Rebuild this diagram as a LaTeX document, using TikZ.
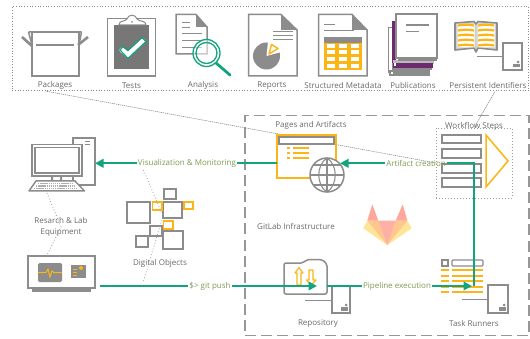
\documentclass[tikz,border=0pt]{standalone}
\usepackage{fontspec}
\setmainfont{Open Sans}
\usetikzlibrary{arrows.meta,calc}
\definecolor{ig}{HTML}{8C8C8C}
\definecolor{tg}{HTML}{6A6A6A}
\definecolor{lg}{HTML}{7F9A52}
\definecolor{tl}{HTML}{12A37F}
\definecolor{og}{HTML}{FBB515}
\definecolor{pp}{HTML}{6E2A6E}
\definecolor{gla}{HTML}{FFB0A4}
\definecolor{glb}{HTML}{FFC68E}
\definecolor{glc}{HTML}{FFE597}
\tikzset{
  ic/.style={draw=ig,line width=1.5pt,fill=white},
  il/.style={draw=ig,line width=1.5pt},
  ol/.style={draw=og,line width=1.5pt},
  tx/.style={font=\fontsize{8}{11}\selectfont,text=tg,inner sep=0pt,align=center,yshift=-1.3pt},
  flowlab/.style={font=\fontsize{8}{9.4}\selectfont,text=lg,inner sep=1.2pt},
  flow/.style={draw=tl,line width=2.1pt},
  flowa/.style={flow,-{Triangle[length=8.5pt,width=8.5pt]}},
  dots/.style={draw=ig!85,line width=.8pt,dash pattern=on .8pt off 2.2pt},
  thin link/.style={draw=ig,line width=.6pt,dash pattern=on 1.2pt off .8pt},
  anchorbox/.style={inner sep=0pt,outer sep=0pt},
  pics/dbox/.style args={#1/#2}{code={
    \draw[ic,fill=white,line width=1.3pt] (0,0) rectangle (#1,#2);
    \fill[ig] (#1-9,#2-6) rectangle (#1-2,#2-2.5);
    \fill[ig] (#1-4,#2-8) circle (1.5);
  }}
}
\begin{document}
\begin{tikzpicture}[x=1pt,y=-1pt]
\useasboundingbox (0,0) rectangle (530,339);
\fill[white] (0,0) rectangle (530,339);

% frames
\node[anchorbox,draw=ig,line width=.8pt,dash pattern=on .8pt off 1.9pt,minimum width=516.5pt,minimum height=84pt] (topbox) at (270.5,48.7) {};
\node[anchorbox,draw=ig!90,line width=1.6pt,dash pattern=on 11pt off 5pt,minimum width=284pt,minimum height=220pt] (gitlabbox) at (387,225.5) {};
\node[anchorbox,dots,minimum width=76pt,minimum height=70pt] (wfbox) at (474,163) {};

% top row: Packages
\draw[il,line width=2.6pt] (22,37) -- (32,46) (88,37) -- (78,45);
\draw[ic,fill=none] (32,32) rectangle (79,76);
\draw[il] (28.5,32) -- (81.5,32) (28.5,32) -- (32,45) (81.5,32) -- (79,45);
\draw[il,line width=1.9pt] (36,45) -- (74,45);
\node[tx] (packages) at (55,84) {Packages};

% Tests
\draw[ic] (107.5,18.5) rectangle (155.5,76);
\fill[ig!85!black] (114,25) rectangle (149,69);
\draw[ic,line width=1pt] (119,25) .. controls (119,20) and (125,22) .. (127,19) .. controls (128,14) and (136,14) .. (137,19) .. controls (139,22) and (146,20) .. (146,25) -- cycle;
\fill[ig] (132,22) circle (1);
\draw[white,line width=5.2pt,line cap=round,line join=round] (122,50) -- (128,55) -- (143,41);
\draw[tl,line width=1.2pt,line join=round] (120,50) -- (123,46.5) -- (128,50.5) -- (142,37.5) -- (146,41.5) -- (128,58.5) -- cycle;
\node[tx] (tests) at (131.5,84) {Tests};

% Analysis
\draw[ic] (176,14.5) -- (196,14.5) -- (207,27) -- (207,54) -- (176,54) -- cycle;
\fill[ig] (196,14.5) -- (207,27) -- (196,27) -- cycle;
\draw[il,line width=.9pt] (182,22) -- (190,22) (182,27) -- (190,27) (182,33) -- (202,33) (182,40) -- (202,40) (182,47) -- (202,47);
\draw[tl,line width=2.8pt,line cap=round] (216,63) -- (230,75);
\draw[tl,line width=1.3pt,fill=white,fill opacity=.55] (206.5,53) circle (13.5);
\draw[tl,line width=1.3pt] (206.5,53) circle (10.5);
\node[tx] (analysis) at (203,84) {Analysis};

% Reports
\draw[ic] (248.5,14.5) -- (281,14.5) -- (297,30) -- (297,76) -- (248.5,76) -- cycle;
\fill[ig] (281,14.5) -- (297,30) -- (281,30) -- cycle;
\draw[il,line width=.9pt] (273,31) -- (293,31) (273,35) -- (293,35) (273,39) -- (293,39);
\fill[ig] (266.5,56) circle (13.5);
\fill[white] (266.5,56) -- (268,42) -- (280,42) -- (281,52) -- cycle;
\draw[og,line width=1.4pt,fill=white,line join=round] (269,54) -- (271.5,44.5) -- (278,48.5) -- cycle;
\node[tx] (reports) at (272,84) {Reports};

% Structured Metadata
\draw[ic] (318.5,14.5) -- (352,14.5) -- (367,30) -- (367,76) -- (318.5,76) -- cycle;
\fill[ig] (352,14.5) -- (367,30) -- (352,30) -- cycle;
\draw[il,line width=.9pt] (324,24) -- (335,24) (324,30) -- (354,30);
\fill[ig] (324,37) rectangle (362,43);
\fill[og] (324,43) rectangle (362,70);
\foreach \cx in {331,343,355}{\foreach \cy in {46,52,59,66}{\fill[white] (\cx-3.7,\cy-1.6) rectangle (\cx+3.7,\cy+1.6);}}
\node[tx] (metadata) at (343,84) {Structured Metadata};

% Publications
\draw[draw=ig,line width=1pt,fill=white] (388.5,28) rectangle (392,73);
\fill[ig] (389,70) rectangle (430,76);
\fill[white] (391,72) rectangle (393,74);
\fill[pp] (392,21) rectangle (396,63);
\fill[ig!60] (393,60) rectangle (434,64);
\fill[pp] (393,63.5) rectangle (433,68);
\fill[white] (393.5,63.5) rectangle (395.5,66);
\fill[ig] (393,68) rectangle (432,70);
\fill[ig] (398,57) rectangle (437,61);
\draw[ic] (396,14) rectangle (437,58);
\draw[il,line width=1.1pt] (406,25) -- (429,25) (406,31.5) -- (419,31.5);
\node[tx] (publications) at (413,84) {Publications};

% Persistent Identifiers
\draw[il,line width=1.6pt,line join=round,fill=ig!40] (455,23) -- (474,21.5) -- (476,24) -- (478,21.5) -- (497,23) -- (497,50) -- (478,48) -- (476,52) -- (474,48) -- (455,50) -- cycle;
\fill[white] (457.5,24) rectangle (474.5,47.5) (477.5,24) rectangle (494.5,47.5);
\foreach \yy in {25.5,30.5,35.5,40.5,45.5}{
  \draw[og,line width=2.2pt] (458,\yy) .. controls (463,\yy-1) and (469,\yy-1) .. (474,\yy);
  \draw[og,line width=2.2pt] (478,\yy) .. controls (483,\yy-1) and (489,\yy-1) .. (494,\yy);
}
\pic at (503,43) {dbox=19/27};
\coordinate (pidline) at (503,57);
\draw[il,line width=1pt] (477,57) -- (pidline);
\node[tx] (pid) at (488,84) {Persistent Identifiers};

% thin links
\coordinate (packlink) at (45,91);
\coordinate (pidlink) at (495,91.5);
\draw[thin link] (packlink) -- (wfbox.west);
\draw[thin link] (pidlink) -- (wfbox.north);

% Computer
\node[anchorbox,draw=ig,line width=1.5pt,minimum width=22pt,minimum height=47pt] (tower) at (84,161.5) {};
\draw[il,line width=1pt] (85,142) -- (90,142) (85,145) -- (90,145);
\draw[ic] (32,144.5) rectangle (82,176);
\draw[il] (35,147.5) rectangle (79,173);
\fill[ig] (51,176) rectangle (53,181) (60,176) rectangle (62,181);
\draw[ic,line join=round] (36,181) -- (75,181) -- (84.5,191) -- (29,191) -- cycle;
\foreach \yy/\xa/\xb in {183.5/38/73,186/36/75,188.5/34/77}{\draw[ig!70,line width=1.2pt,dash pattern=on 1.4pt off .7pt] (\xa,\yy) -- (\xb,\yy);}

% Equipment
\node[anchorbox,draw=ig,line width=1.5pt,minimum width=67pt,minimum height=32pt] (equip) at (61.5,272) {};
\fill[ig] (32,289) rectangle (91,292);
\fill[ig,rounded corners=1.5pt] (38,263) rectangle (62,282);
\draw[og,line width=1pt] (38,272.5) -- (46,272.5) -- (48,269) -- (50,277) -- (52,271) -- (54,272.5) -- (62,272.5);
\fill[ig] (71,265) rectangle (86,278);
\draw[og,line width=1pt] (73,269) -- (77,269) (73,272) -- (77,272) (73,275.5) -- (77,275.5);
\fill[og] (81,268) circle (2);

\coordinate (pcdot) at (47,193);
\coordinate (eqdot) at (47,255);
\node[tx] (equiplabel) at (61,225.5) {Resarch \& Lab\\Equipment};
\draw[dots] (pcdot) -- (equiplabel.center) -- (eqdot);

% Digital objects
\foreach \xa/\ya/\xb/\yb in {127/202/150/223,164/189/176/199,163/202/182/218,150/226/162/236,136/236/148/247,163/231/183/249}{
  \draw[ic] (\xa,\ya) rectangle (\xb,\yb);}
\foreach \xa/\ya/\xb/\yb in {152.5/202/162/210,184/202/193/209,163.5/221/173/229}{
  \draw[ol,fill=white] (\xa,\ya) rectangle (\xb,\yb);}
\node[tx] (digital) at (160,262) {Digital Objects};
\coordinate (dotop) at (143.5,170);
\coordinate (domid) at (163,216);
\coordinate (dobot) at (143,283);
\draw[dots] (dotop) -- (domid) -- (dobot);

% Pages and artifacts
\node[tx] (pageslabel) at (311,124) {Pages and Artifacts};
\node[anchorbox,draw=og,line width=1.5pt,minimum width=59pt,minimum height=43pt] (win) at (306.5,156.5) {};
\draw[il,fill=white,line width=1.6pt] (279,137) rectangle (334,144);
\foreach \yy in {148,153,158}{
  \fill[og] (287,\yy-.7) rectangle (289.5,\yy+.7);
  \fill[og] (293,\yy-.7) rectangle (308.5,\yy+.7);
}
\node[anchorbox,circle,draw=ig,fill=white,line width=1.5pt,minimum size=34pt] (globe) at (327,175) {};
\draw[il,line width=1.1pt] (327,158) -- (327,192) (310,175) -- (344,175) (313,165) -- (341,165) (313,185) -- (341,185);
\draw[il,line width=1.1pt] (327,158) .. controls (316,165) and (316,185) .. (327,192);
\draw[il,line width=1.1pt] (327,158) .. controls (338,165) and (338,185) .. (327,192);
\node[tx] (infra) at (296,225) {GitLab Infrastructure};

% Workflow steps
\node[tx] (wflabel) at (474,125) {Workflow Steps};
\foreach \ya/\yb in {135/143,149/158,164/173,178/187}{\draw[ic,fill=white] (442,\ya) rectangle (481,\yb);}
\draw[ol,line join=miter] (486,135) -- (508,161) -- (486,187) -- cycle;

% GitLab logo
\fill[glc] (363.3,228.3) -- (367.3,220.7) -- (378.3,220.7) -- (387.3,245) -- cycle;
\fill[glc] (411.7,228.3) -- (407.3,220.7) -- (395.7,220.7) -- (387.3,245) -- cycle;
\fill[glb] (367.3,220.7) -- (378.3,220.7) -- (387.3,245) -- cycle;
\fill[glb] (407.3,220.7) -- (395.7,220.7) -- (387.3,245) -- cycle;
\fill[gla] (378.3,220.7) -- (395.7,220.7) -- (387.3,245) -- cycle;
\fill[gla!95!red] (372.3,204.3) -- (367.3,220.7) -- (378.3,220.7) -- cycle;
\fill[gla!95!red] (402.7,204.3) -- (395.7,220.7) -- (407.3,220.7) -- cycle;

% Repository
\draw[ic,rounded corners=2pt] (284,294) -- (284,263) -- (303,263) -- (307,259.5) -- (322,259.5) -- (327,264) -- (327,294) -- cycle;
\node[anchorbox,minimum width=43pt,minimum height=35pt] (folder) at (305.5,276.5) {};
\draw[ol,line width=1.2pt,line join=round] (297,285) -- (297,273) -- (295,273) -- (299,267.5) -- (303,273) -- (301,273) -- (301,285) -- cycle;
\draw[ol,line width=1.2pt,line join=round] (309,270) -- (309,280) -- (306.5,280) -- (311,285.5) -- (316,280) -- (313,280) -- (313,270) -- cycle;
\pic at (332,286) {dbox=18/27};
\draw[il,line width=1pt] (305,300) -- (332,300);
\node[tx] (repolabel) at (318,322.5) {Repository};

% Task runners
\draw[il,line width=1.2pt] (442,260) rectangle (448,266);
\draw[il,line width=1.2pt,rounded corners=1pt] (452,260) rectangle (483,266);
\foreach \yy in {270,276,281,287,292}{
  \draw[og,line width=1.3pt] (441,\yy) -- (449,\yy) (452,\yy) -- (483,\yy);
}
\pic at (488,285) {dbox=20/28};
\draw[il,line width=1pt] (462,299) -- (488,299);
\node[tx] (tasklabel) at (474,322.5) {Task Runners};

% connectors
\node[flowlab] (viz) at (187,163.3) {Visualization \& Monitoring};
\node[flowlab] (art) at (416,163.3) {Artifact creation};
\node[flowlab] (gitp) at (210,286) {\$> git push};
\node[flowlab] (pipe) at (397,286) {Pipeline execution};
\coordinate (taskin) at (474,286);
\coordinate (taskhead) at (472,286);
\draw[flow] (win.west |- viz) -- (viz.east);
\draw[flowa] (viz.west) -- (tower.east |- viz);
\draw[flow] ([xshift=5pt]equip.east |- gitp) -- (gitp.west);
\draw[flowa] (gitp.east) -- ([xshift=-10pt]folder.east |- gitp);
\draw[flow] (folder.east |- pipe) -- (pipe.west);
\draw[flowa] (pipe.east) -- (taskhead);
\draw[flow] (taskin) |- (art.east);
\draw[flowa] (art.west) -- ([xshift=-4pt]globe.east |- art);
\end{tikzpicture}
\end{document}
